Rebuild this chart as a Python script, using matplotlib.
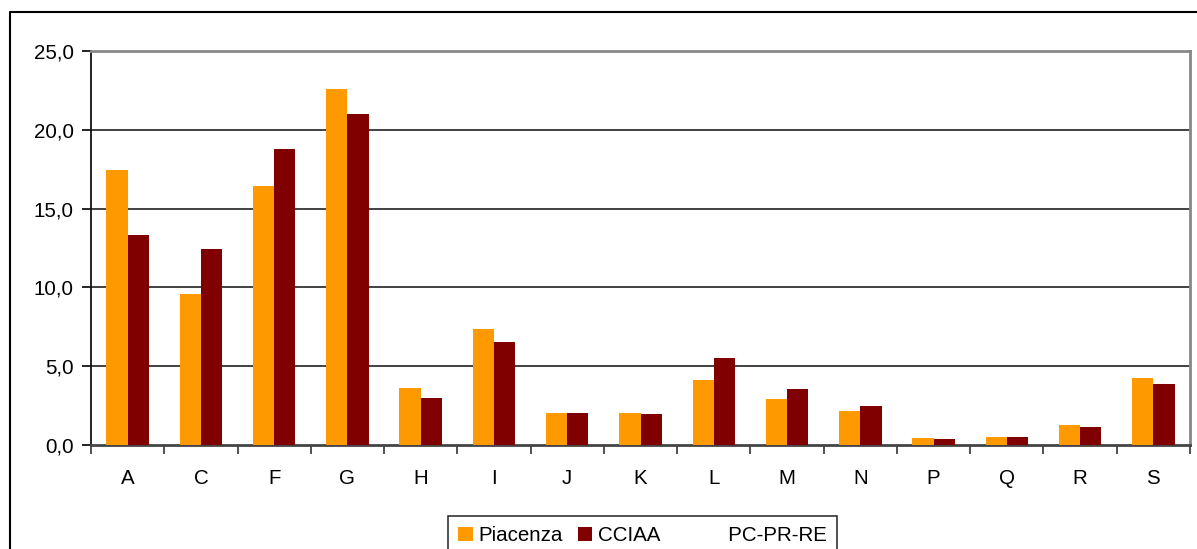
import matplotlib
matplotlib.use("Agg")
import matplotlib.pyplot as plt
from matplotlib.lines import Line2D
from matplotlib.ticker import FuncFormatter, FixedLocator
import numpy as np

categories = ["A", "C", "F", "G", "H", "I", "J", "K", "L", "M", "N", "P", "Q", "R", "S"]
piacenza = [17.45, 9.58, 16.43, 22.59, 3.63, 7.35, 2.03, 2.03, 4.15, 2.93, 2.16, 0.43, 0.49, 1.26, 4.27]
cciaa = [13.32, 12.44, 18.78, 21.0, 2.99, 6.52, 2.03, 1.97, 5.49, 3.57, 2.48, 0.36, 0.49, 1.13, 3.89]
yticks = [0, 5, 10, 15, 20, 25]

plt.rcParams['font.family'] = ['Liberation Sans', 'DejaVu Sans']
FS = 14.8

W, H = 1197, 549
fig = plt.figure(figsize=(W / 100, H / 100), dpi=100)
ax = fig.add_axes([91 / W, 1 - 445 / H, (1190 - 91) / W, (445 - 51) / H])

x = np.arange(len(categories))
bw = 0.29
b1 = ax.bar(x - bw / 2, piacenza, bw, color="#FF9900", zorder=3, linewidth=0)
b2 = ax.bar(x + bw / 2, cciaa, bw, color="#800000", zorder=3, linewidth=0)

ax.set_xlim(-0.5, len(categories) - 0.5)
ax.set_ylim(0, 25)

ax.set_yticks(yticks)
ax.yaxis.set_major_formatter(FuncFormatter(lambda v, p: f"{v:.1f}".replace(".", ",")))
for v in yticks[1:-1]:
    ax.axhline(v, color="#333333", lw=1.3, zorder=1)

ax.set_xticks(x)
ax.set_xticklabels(categories)
ax.xaxis.set_minor_locator(FixedLocator(np.arange(-0.5, len(categories), 1.0)))
ax.tick_params(axis="x", which="major", length=0, pad=17, labelsize=FS)
ax.tick_params(axis="x", which="minor", length=6.5, width=1.2, direction="out", color="#333333")
ax.tick_params(axis="y", which="major", length=6.5, width=1.2, direction="out", pad=6, labelsize=FS)

ax.spines["left"].set_color("#111111")
ax.spines["left"].set_linewidth(1.3)
ax.spines["bottom"].set_color("#444444")
ax.spines["bottom"].set_linewidth(2.0)
ax.spines["top"].set_color("#888888")
ax.spines["top"].set_linewidth(2.0)
ax.spines["right"].set_color("#888888")
ax.spines["right"].set_linewidth(2.0)

# outer chart frame (partially cut off)
fig.add_artist(Line2D([10 / W, 10 / W, 1.01], [-0.05, 1 - 12 / H, 1 - 12 / H],
                      transform=fig.transFigure, color="black", lw=1.5))

leg = fig.legend([b1, b2], ["Piacenza", "CCIAA            PC-PR-RE"],
                 loc="upper left", bbox_to_anchor=(448 / W, 1 - 516 / H),
                 bbox_transform=fig.transFigure, frameon=True, fancybox=False,
                 edgecolor="black", fontsize=FS, ncol=2, handlelength=0.7,
                 handleheight=0.7, handletextpad=0.3, columnspacing=0.7,
                 borderpad=0.5, borderaxespad=0)
leg.get_frame().set_linewidth(1.2)

fig.savefig("out.png", dpi=100)
